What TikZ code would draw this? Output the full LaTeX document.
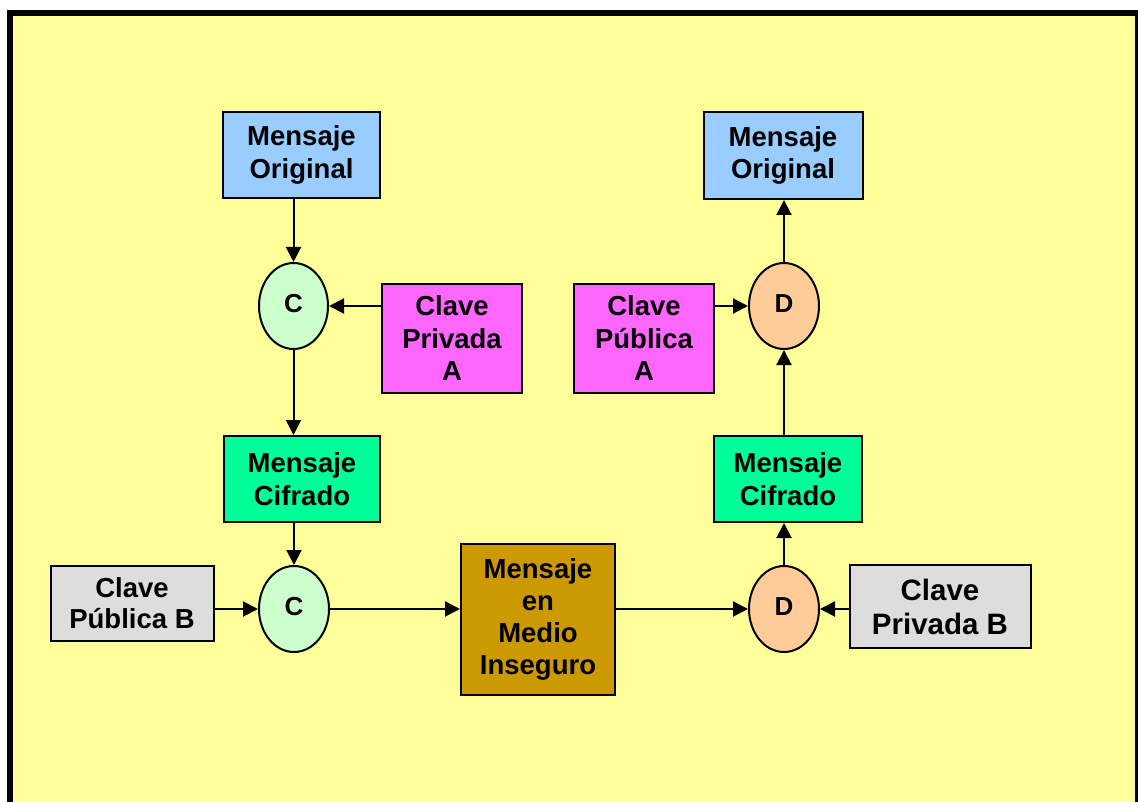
\documentclass[tikz,border=0pt]{standalone}
\usepackage{fontspec}
\setmainfont{Liberation Sans}
\usetikzlibrary{shapes.geometric,arrows.meta}
\definecolor{bgyellow}{HTML}{FFFF99}
\definecolor{mblue}{HTML}{99CCFF}
\definecolor{cgreen}{HTML}{CCFFCC}
\definecolor{kmag}{HTML}{FF66FF}
\definecolor{mcgreen}{HTML}{00FF99}
\definecolor{kgray}{HTML}{DDDDDD}
\definecolor{mgold}{HTML}{CC9900}
\definecolor{dorange}{HTML}{FFCC99}
\tikzset{
  box/.style={draw=black, line width=2pt, rectangle, inner sep=0pt, align=center,
    font=\bfseries\fontsize{27.5}{32.5}\selectfont},
  oval/.style={draw=black, line width=2pt, ellipse, inner sep=0pt,
    minimum width=70pt, minimum height=86pt, font=\bfseries\fontsize{26}{30}\selectfont},
  conn/.style={line width=2pt, -{Triangle[length=15pt,width=15pt]}},
}
\begin{document}
\begin{tikzpicture}[x=1pt,y=-1pt]
\useasboundingbox (0,0) rectangle (1138,802);
\fill[bgyellow] (10,13) rectangle (1138,840);
\draw[line width=5.5pt] (10,13) rectangle (1138,840);

\node[box, fill=mblue, minimum width=157pt, minimum height=86pt] (mo1) at (301.5,155) {Mensaje\\Original};
\node[oval, fill=cgreen, minimum width=69pt] (c1) at (293.5,306) {\raisebox{5pt}{C}};
\node[box, fill=kmag, minimum width=140pt, minimum height=109pt] (kpa) at (452,338.5) {Clave\\Privada\\A};
\node[box, fill=mcgreen, minimum width=156pt, minimum height=86pt] (mc1) at (302,479) {Mensaje\\Cifrado};
\node[oval, fill=cgreen] (c2) at (294,609) {\raisebox{5pt}{C}};
\node[box, fill=kgray, minimum width=163pt, minimum height=75pt, font=\bfseries\fontsize{27.5}{31}\selectfont] (kpb) at (132,603) {Clave\\Pública B};
\node[box, fill=mgold, minimum width=154pt, minimum height=151pt, font=\bfseries\fontsize{27.5}{32}\selectfont] (mmi) at (538,619.5) {Mensaje\\en\\Medio\\Inseguro};
\node[oval, fill=dorange] (d2) at (784,609) {\raisebox{5pt}{D}};
\node[box, fill=kgray, minimum width=181pt, minimum height=83pt, font=\bfseries\fontsize{29.5}{34}\selectfont] (kprb) at (940,606.5) {Clave\\Privada B};
\node[box, fill=mcgreen, minimum width=148pt, minimum height=86pt] (mc2) at (788,479) {Mensaje\\Cifrado};
\node[oval, fill=dorange] (d1) at (784,306) {\raisebox{5pt}{D}};
\node[box, fill=kmag, minimum width=140pt, minimum height=109pt] (kpua) at (644,338.5) {Clave\\Pública\\A};
\node[box, fill=mblue, minimum width=159pt, minimum height=87pt] (mo2) at (783,155.5) {Mensaje\\Original};

\draw[conn] (c1 |- mo1.south) -- (c1.north);
\draw[conn] (kpa.west |- c1) -- (c1.east);
\draw[conn] (c1.south) -- (c1 |- mc1.north);
\draw[conn] (c2 |- mc1.south) -- (c2.north);
\draw[conn] (kpb.east |- c2) -- (c2.west);
\draw[conn] (c2.east) -- (mmi.west |- c2);
\draw[conn] (mmi.east |- d2) -- (d2.west);
\draw[conn] (kprb.west |- d2) -- (d2.east);
\draw[conn] (d2.north) -- (d2 |- mc2.south);
\draw[conn] (d1 |- mc2.north) -- (d1.south);
\draw[conn] (kpua.east |- d1) -- (d1.west);
\draw[conn] (d1.north) -- (d1 |- mo2.south);
\end{tikzpicture}
\end{document}
